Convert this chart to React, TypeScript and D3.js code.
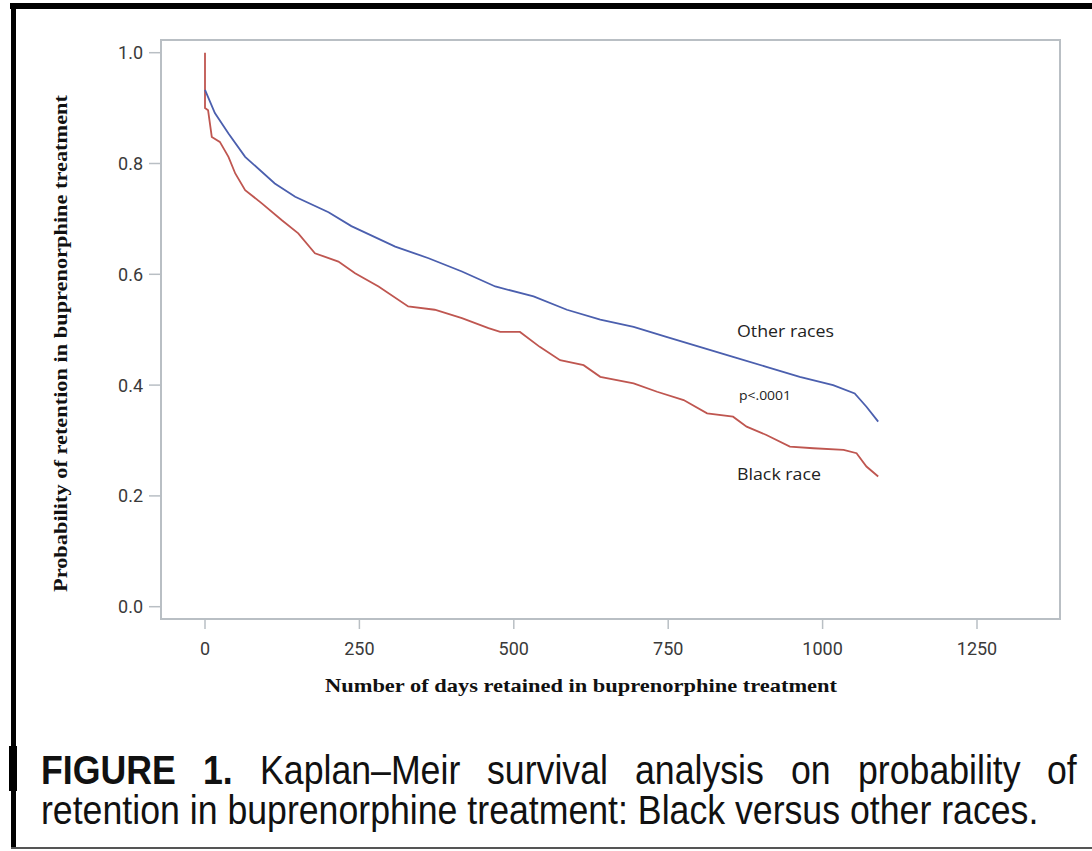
import React from "react";
import * as d3 from "d3";

const otherDays = [0, 16, 38, 65, 113, 146, 200, 237, 308, 362, 416, 470, 532, 586, 640, 694, 747, 801, 855, 909, 963, 1017, 1052, 1071, 1090];
const otherSurv = [0.933, 0.891, 0.854, 0.812, 0.764, 0.74, 0.712, 0.687, 0.65, 0.629, 0.605, 0.578, 0.56, 0.536, 0.518, 0.505, 0.487, 0.469, 0.451, 0.433, 0.415, 0.4, 0.385, 0.361, 0.334];

const blackDays = [0, 0, 5, 11, 24, 38, 49, 65, 92, 124, 151, 178, 216, 243, 281, 329, 372, 416, 459, 478, 510, 542, 575, 613, 640, 694, 732, 775, 813, 855, 877, 909, 947, 985, 1034, 1055, 1071, 1090];
const blackSurv = [1.0, 0.9, 0.896, 0.848, 0.839, 0.812, 0.782, 0.752, 0.728, 0.698, 0.674, 0.638, 0.623, 0.602, 0.578, 0.542, 0.536, 0.521, 0.503, 0.496, 0.496, 0.469, 0.445, 0.436, 0.415, 0.403, 0.388, 0.373, 0.349, 0.343, 0.325, 0.31, 0.289, 0.286, 0.283, 0.277, 0.253, 0.235];

const xTicks = [0, 250, 500, 750, 1000, 1250];
const yTicks = [0, 0.2, 0.4, 0.6, 0.8, 1.0];
const seriesLabels = ["Other races", "Black race"];
const pLabel = "p<.0001";
const xTitle = "Number of days retained in buprenorphine treatment";
const yTitle = "Probability of retention in buprenorphine treatment";
const captionLine1 = ["FIGURE", "1.", "Kaplan–Meir", "survival", "analysis", "on", "probability", "of"];
const captionLine2 = "retention in buprenorphine treatment: Black versus other races.";

export default function App() {
  const x = d3.scaleLinear().domain([0, 1250]).range([205, 977]);
  const y = d3.scaleLinear().domain([0, 1]).range([606.7, 52.7]);
  const line = d3
    .line<[number, number]>()
    .x((d) => x(d[0]))
    .y((d) => y(d[1]))
    .curve(d3.curveLinear);
  const otherPts = otherDays.map((d, i) => [d, otherSurv[i]] as [number, number]);
  const blackPts = blackDays.map((d, i) => [d, blackSurv[i]] as [number, number]);

  const frame = { x0: 161, x1: 1060, y0: 40, y1: 619 };
  const axisColor = "#b9bfc4";
  const tickFont = "Roboto, 'DejaVu Sans', sans-serif";
  const labelFont = "'Open Sans', 'Noto Sans', sans-serif";
  const serif = "'Liberation Serif', 'DejaVu Serif', serif";
  const sans = "'Liberation Sans', Arial, sans-serif";

  // horizontal condensation of the caption font
  const k = 0.892;
  // justified word start positions on line 1 (page px)
  const cap1Start = [41, 203, 260, 487, 635, 791, 858, 1047];

  return (
    <svg
      width={1092}
      height={851}
      style={{ position: "absolute", left: 0, top: 0, background: "#fff" }}
    >
      <rect x={0} y={0} width={1092} height={851} fill="#fff" />
      {/* outer figure border */}
      <rect x={10} y={3} width={1082} height={6} fill="#000" />
      <rect x={11} y={3} width={5} height={846} fill="#000" />
      <rect x={9} y={746} width={8} height={45} fill="#000" />
      <rect x={11} y={847} width={1081} height={2} fill="#555" />

      {/* plot frame */}
      <rect
        x={frame.x0}
        y={frame.y0}
        width={frame.x1 - frame.x0}
        height={frame.y1 - frame.y0}
        fill="none"
        stroke={axisColor}
        strokeWidth={2}
      />

      {/* y ticks */}
      {yTicks.map((t) => (
        <g key={"y" + t}>
          <line x1={149} x2={frame.x0} y1={y(t)} y2={y(t)} stroke={axisColor} strokeWidth={1.5} />
          <text
            x={143}
            y={y(t) + 6.5}
            textAnchor="end"
            fontFamily={tickFont}
            fontSize={18}
            fill="#3a3a3a"
          >
            {t.toFixed(1)}
          </text>
        </g>
      ))}

      {/* x ticks */}
      {xTicks.map((t) => (
        <g key={"x" + t}>
          <line x1={x(t)} x2={x(t)} y1={frame.y1} y2={629} stroke={axisColor} strokeWidth={1.5} />
          <text
            x={x(t)}
            y={655}
            textAnchor="middle"
            fontFamily={tickFont}
            fontSize={18}
            fill="#3a3a3a"
          >
            {String(t)}
          </text>
        </g>
      ))}

      {/* axis titles */}
      <text
        x={325}
        y={692}
        fontFamily={serif}
        fontWeight="bold"
        fontSize={19}
        fill="#111"
        textLength={512}
        lengthAdjust="spacingAndGlyphs"
      >
        {xTitle}
      </text>
      <text
        transform="translate(67,592) rotate(-90)"
        x={0}
        y={0}
        fontFamily={serif}
        fontWeight="bold"
        fontSize={19}
        fill="#111"
        textLength={497}
        lengthAdjust="spacingAndGlyphs"
      >
        {yTitle}
      </text>

      {/* curves */}
      <path d={line(blackPts) || ""} fill="none" stroke="#bf5650" strokeWidth={1.8} />
      <path d={line(otherPts) || ""} fill="none" stroke="#4b5fae" strokeWidth={1.8} />

      {/* annotations */}
      <text x={737} y={337} fontFamily={labelFont} fontSize={15.5} fill="#222" textLength={97} lengthAdjust="spacingAndGlyphs">
        {seriesLabels[0]}
      </text>
      <text x={739} y={400} fontFamily={labelFont} fontSize={12.5} fill="#222" textLength={52} lengthAdjust="spacingAndGlyphs">
        {pLabel}
      </text>
      <text x={737} y={480} fontFamily={labelFont} fontSize={15.5} fill="#222" textLength={84} lengthAdjust="spacingAndGlyphs">
        {seriesLabels[1]}
      </text>

      {/* caption */}
      <g transform={`scale(${k},1)`}>
        {captionLine1.map((w, i) => (
          <text
            key={"c" + i}
            x={cap1Start[i] / k}
            y={784}
            fontFamily={sans}
            fontWeight={i < 2 ? "bold" : "normal"}
            fontSize={40}
            fill="#111"
          >
            {w}
          </text>
        ))}
        <text x={41 / k} y={824} fontFamily={sans} fontSize={40} fill="#111">
          {captionLine2}
        </text>
      </g>
    </svg>
  );
}
